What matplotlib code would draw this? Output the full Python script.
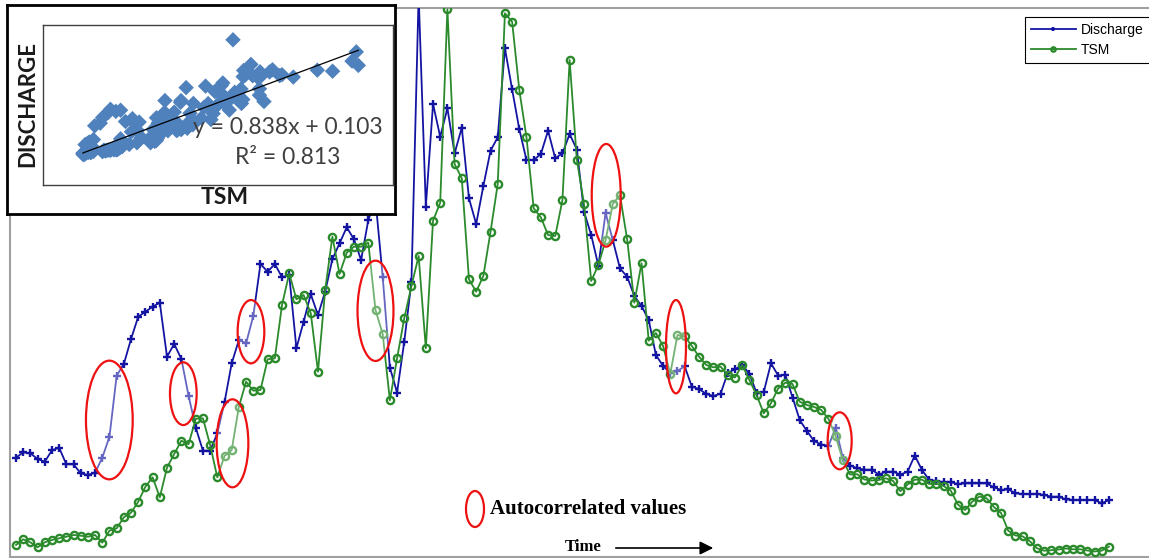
import numpy as np
import matplotlib
matplotlib.use("Agg")
import matplotlib.pyplot as plt
from matplotlib.patches import Ellipse, FancyArrowPatch

# ---------------- data (arbitrary units) ----------------
discharge = [
    99.3, 104.7, 103.7, 98, 95.3, 106.7, 109.3, 92.7, 92.7, 83.7,
    82, 84.3, 99.3, 120.3, 181.3, 193, 218, 240.3, 245.3, 250.3,
    254.3, 200.3, 213, 198, 161.3, 129.3, 106.3, 106.3, 123.7, 154.7,
    193.7, 217, 213.7, 241, 293, 285.3, 293, 279.7, 282, 208.7,
    235.3, 262.7, 242, 265.3, 297.7, 313.7, 329.7, 317.7, 297, 337,
    357, 280.3, 189.5, 164.5, 215.3, 275.3, 562, 350.3, 453, 420.3,
    448.7, 403.7, 429.3, 358.7, 333, 371, 406.3, 419.7, 508.7, 467.7,
    427.7, 397, 397, 403, 426.3, 398.7, 403.7, 423, 407.5, 345.3,
    322, 291.3, 344, 317, 288.7, 280.3, 261, 251, 237, 202,
    191, 184, 186, 190.7, 170.3, 168, 163, 161, 163.3, 184.3,
    187.7, 192, 183.3, 164, 165, 193.7, 181.5, 182.3, 159.5, 137,
    126, 116, 112.5, 111, 129.5, 99, 91.5, 88.7, 87.3, 87.3,
    82.5, 85.3, 85.3, 82.5, 85.3, 101.5, 87, 77.3, 75.8, 75,
    74.8, 73, 73.7, 73.7, 73.7, 73.7, 69.7, 67, 67.7, 63.7,
    63, 63, 63, 62, 60.3, 60.3, 57.7, 57, 57, 57,
    57, 53.7, 57,
]
tsm = [
    12, 17.7, 14.7, 9.7, 14.7, 17, 18.7, 20.3, 22, 21.3,
    20.3, 22, 14.3, 26.3, 28.7, 39.7, 44.3, 55.3, 70.3, 79.7,
    59.7, 89.3, 103, 116.3, 112.8, 138.2, 138.7, 112, 79.7, 101,
    107, 150.3, 175.3, 166.3, 167, 197.7, 198.7, 252, 283.7, 257.7,
    262, 243.7, 185.3, 267, 320.3, 283, 304.3, 310.3, 310.3, 314.3,
    247, 223, 156.7, 198.7, 238.7, 271, 301, 208.7, 336.3, 354.3,
    547.7, 393, 378.7, 277.7, 265.3, 281, 325.3, 373, 543.7, 535.3,
    467, 419.7, 348.7, 339.7, 322, 321, 357, 497, 397.5, 353,
    276, 292, 316.7, 353, 362, 317.7, 254.3, 293.7, 216.3, 224,
    211, 183.3, 222, 220.7, 211, 200.3, 192, 189.7, 190.3, 182,
    179.5, 192, 177, 162, 143.7, 153.7, 168.5, 174.3, 173, 155.3,
    152, 150, 147, 138.2, 120.7, 96.7, 82.5, 82.8, 77.5, 76.5,
    77, 78.7, 76, 65.8, 72.5, 77.3, 77.3, 73, 73.3, 71,
    66.5, 52.5, 47, 55.3, 60.5, 58.7, 50, 44, 26.3, 21.5,
    20.7, 15.8, 8.7, 6.3, 6.8, 7.5, 8.5, 7.7, 7.7, 6.5,
    5.5, 6.3, 10.3,
]
series_labels = ["Discharge", "TSM"]
fit_slope = 0.838
fit_intercept = 0.103
fit_r2 = 0.813
norm_ref = 549.0  # common scale used for the inset scatter

# annotation ellipses: (time index centre, value centre, width [index], height [value])
autocorr_marks = [
    (12.98, 137.0, 6.5, 118.7),
    (23.27, 163.3, 3.71, 62.7),
    (30.11, 113.7, 4.41, 88.0),
    (32.68, 225.3, 3.71, 63.3),
    (50.0, 246.2, 5.0, 100.3),
    (82.09, 361.7, 4.03, 102.7),
    (91.79, 210.3, 2.78, 93.3),
    (114.56, 116.2, 3.34, 57.0),
]

# ---------------- figure ----------------
W, H = 1149, 558
fig = plt.figure(figsize=(W / 100, H / 100), dpi=100)
fig.patch.set_facecolor("white")


def fx(px):
    return px / W


def fy(py):
    return 1 - py / H


BLUE = "#1414a2"
GREEN = "#2b8a2b"

ax = fig.add_axes([fx(10), fy(557), fx(1152) - fx(10), fy(8) - fy(557)])
ax.set_zorder(0)
t = np.arange(len(discharge))
ax.plot(t, discharge, color=BLUE, lw=1.3, marker="+", ms=5.5, mew=1.7,
        label=series_labels[0], zorder=3)
ax.plot(t, tsm, color=GREEN, lw=1.3, marker="o", ms=5.2, mew=1.7, mfc="none",
        label=series_labels[1], zorder=4)
ax.set_xlim((10 - 16) / 7.19, (1152 - 16) / 7.19)
ax.set_ylim(0, 549)
ax.set_xticks([])
ax.set_yticks([])
for s in ["left", "top", "bottom"]:
    ax.spines[s].set_color("#a0a0a0")
    ax.spines[s].set_linewidth(1.5)
ax.spines["right"].set_visible(False)

for (cx, cy, w, h) in autocorr_marks:
    ax.add_patch(Ellipse((cx, cy), w, h, facecolor=(1, 1, 1, 0.35),
                         edgecolor="#ee1111", lw=1.6, zorder=6))

leg = ax.legend(loc="upper left", bbox_to_anchor=(fx(1025), fy(17)),
                bbox_transform=fig.transFigure, borderaxespad=0,
                prop={"family": "Liberation Sans", "size": 10},
                frameon=True, fancybox=False, framealpha=1,
                edgecolor="black", handlelength=3.2, handletextpad=0.35,
                borderpad=0.45, labelspacing=0.4, markerscale=0.6)
leg.get_frame().set_linewidth(0.8)

# ---------------- inset scatter ----------------
box = fig.add_axes([fx(7), fy(214), fx(395) - fx(7), fy(5) - fy(214)])
box.set_zorder(10)
box.set_facecolor("white")
box.set_xticks([])
box.set_yticks([])
for s in box.spines.values():
    s.set_color("black")
    s.set_linewidth(2)

ins = fig.add_axes([fx(43.3), fy(185), fx(393) - fx(43.3), fy(25) - fy(185)])
ins.set_zorder(11)
ins.set_facecolor("white")
xs = np.array(tsm) / norm_ref
ys = np.array(discharge) / norm_ref
ins.scatter(xs, ys, marker="D", s=62, color="#4f81bd", edgecolors="none", zorder=2)
lx = np.array([xs.min(), xs.max()])
ins.plot(lx, fit_slope * lx + fit_intercept, color="black", lw=0.9, zorder=3)
ins.set_xlim(-0.132, 1.122)
ins.set_ylim(-0.147, 1.143)
ins.set_xticks([])
ins.set_yticks([])
for s in ins.spines.values():
    s.set_color("#404040")
    s.set_linewidth(1)

fig.text(fx(287.5), fy(127), f"y = {fit_slope}x + {fit_intercept}", ha="center",
         va="center", fontsize=16.5, family="Lato", color="#404040", zorder=20)
fig.text(fx(287.5), fy(157), f"R\u00b2 = {fit_r2}", ha="center", va="center",
         fontsize=16.5, family="Lato", color="#404040", zorder=20)
fig.text(fx(28), fy(104), "DISCHARGE", rotation=90, ha="center", va="center",
         fontsize=16, family="Lato", weight="bold", color="#1a1a1a", zorder=20)
fig.text(fx(225), fy(197), "TSM", ha="center", va="center", fontsize=16.5,
         family="Lato", weight="bold", color="#1a1a1a", zorder=20)

# ---------------- bottom annotations ----------------
fig.add_artist(Ellipse((fx(475), fy(509)), 18 / W, 36 / H, transform=fig.transFigure,
                       fill=False, edgecolor="#ee1111", lw=1.6))
fig.text(fx(490), fy(509), "Autocorrelated values", ha="left", va="center",
         fontsize=15, family="Liberation Serif", weight="bold", color="black")
fig.text(fx(583.5), fy(547), "Time", ha="center", va="center", fontsize=12,
         family="Liberation Serif", weight="bold", color="black")
fig.add_artist(FancyArrowPatch((fx(613), fy(548)), (fx(716), fy(548)),
                               transform=fig.transFigure, arrowstyle="-|>",
                               mutation_scale=20, color="black", lw=1.2))

fig.savefig("out.png", dpi=100)
